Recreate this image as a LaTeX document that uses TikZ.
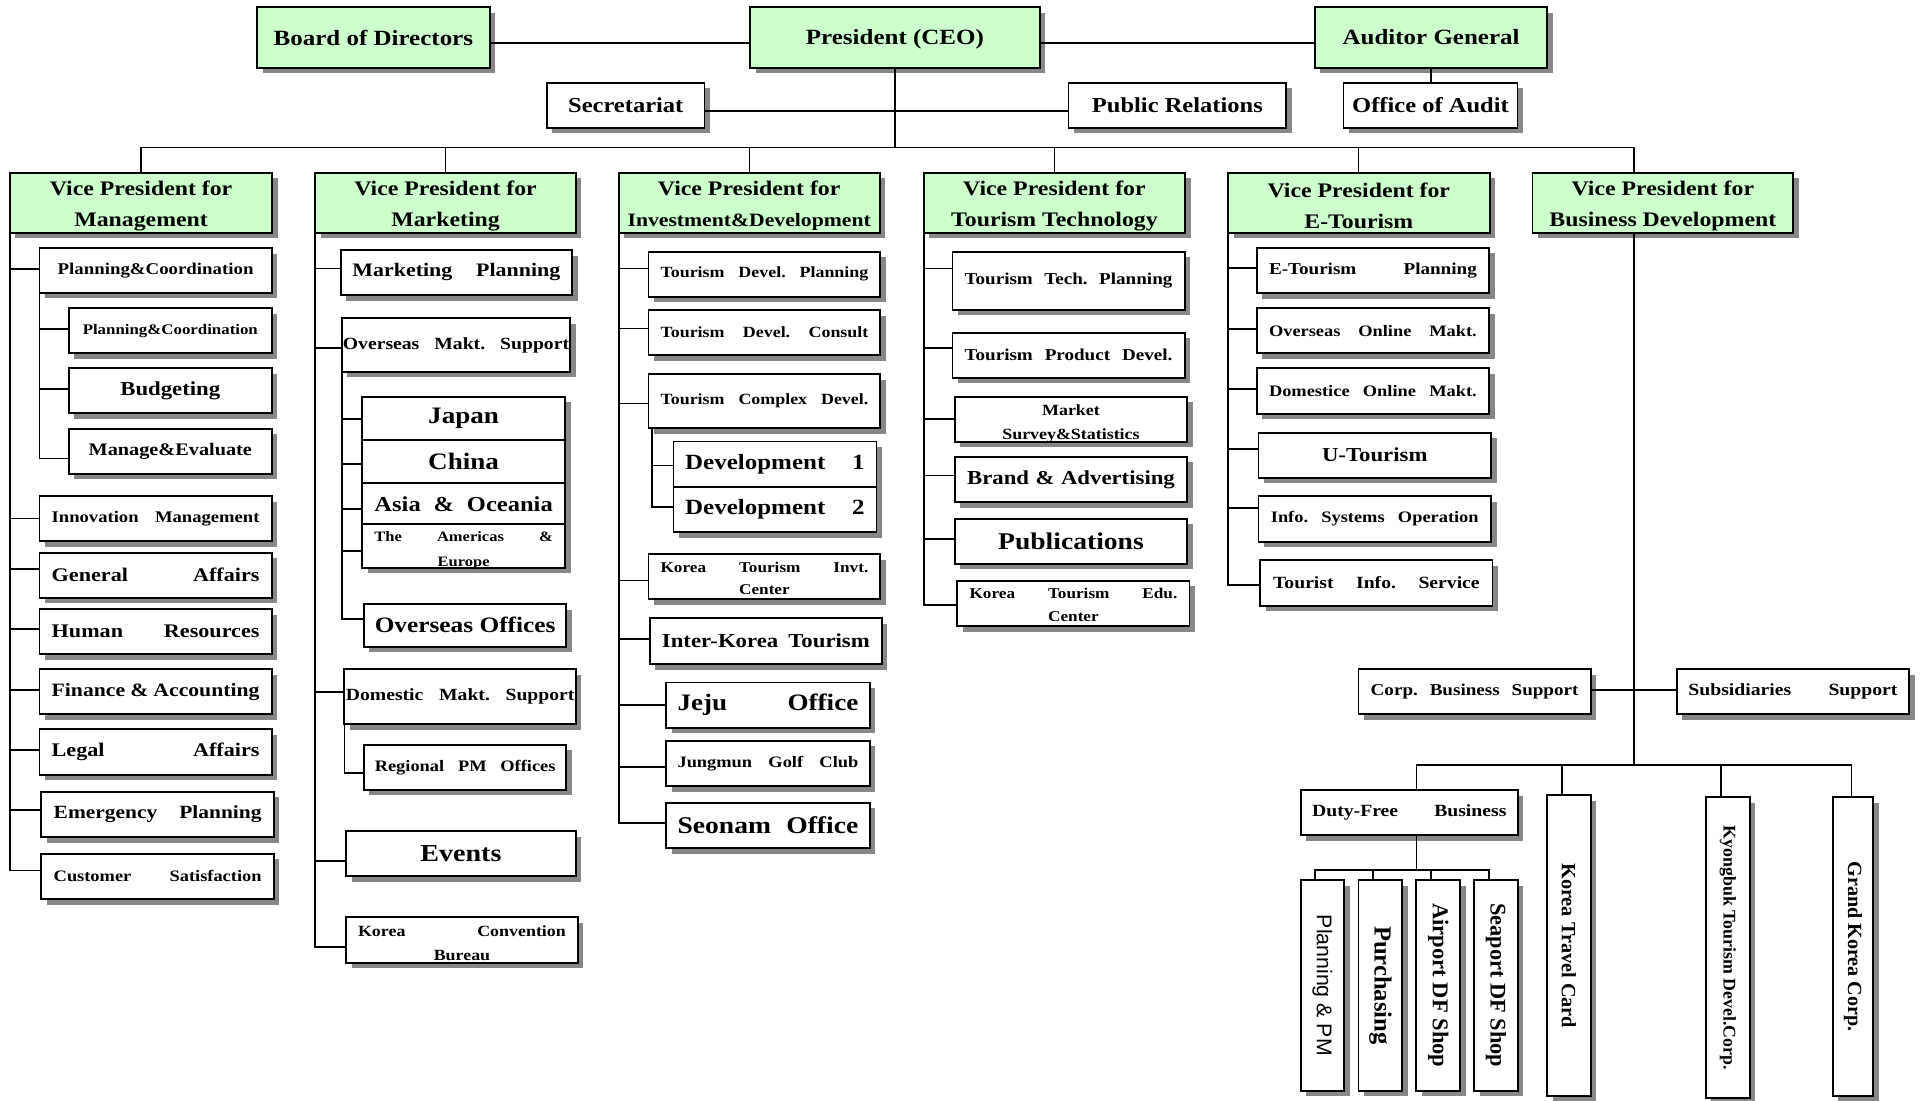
\documentclass[tikz,border=0pt]{standalone}
\usepackage{fontspec}
\setmainfont{Liberation Serif}[FakeStretch=1.15]
\newfontfamily\rfont{Liberation Serif}
\newfontfamily\rsans{Liberation Sans}
\usepackage{graphicx}
\usetikzlibrary{shadows,calc}
\definecolor{vpgreen}{HTML}{CCFFCC}
\definecolor{shade}{HTML}{878787}
\newdimen\uu \uu=0.6pt
% font size in pt
\newcommand\fz[1]{\fontsize{#1pt}{#1pt}\selectfont\baselineskip=1.2\dimexpr#1pt\relax}
% text spread over a given width (in drawing units)
\newcommand\spr[2]{\hbox to #1\uu{#2}}
% two-line label: raise, baselineskip, width, line 1, line 2
\newcommand\twol[5]{\raisebox{#1\uu}[0pt][0pt]{\parbox[b]{#3\uu}{\centering\baselineskip=#2\uu\relax\leavevmode #4\\#5}}}
% box: [style] name x1 y1 x2 y2 size text
\newcommand\obx[8][]{\node[bx,#1,font=\bfseries\fz{#7},minimum width={(#5-#3)*0.6pt},minimum height={(#6-#4)*0.6pt}] (#2) at ({(#3+#5)/2},{(#4+#6)/2}) {#8};}
% elbow connector from a trunk point to a box's west side
\newcommand\jn[3]{\draw[ln] (#1) |- ($(#2.west)+(0,#3)$);}
\newcommand\vtx[2]{\rotatebox{-90}{\rfont\bfseries\fz{#1}#2}}
% two-line vice-president title
\newcommand\vpt[1]{\rule{0pt}{10pt}Vice President for\\[3pt]#1}
\tikzset{
  bx/.style={draw, line width=0.9pt, fill=white, inner sep=0pt, outer sep=0pt,
    drop shadow={shadow xshift=2.7pt, shadow yshift=-2.7pt, fill=shade, opacity=1}},
  gbx/.style={bx, fill=vpgreen},
  ln/.style={line width=0.8pt},
  tln/.style={line width=0.6pt}
}
\begin{document}
\begin{tikzpicture}[x=0.6pt,y=-0.6pt]
\useasboundingbox (0,0) rectangle (1568,895);
\fill[white] (0,0) rectangle (1568,895);
\clip (0,0) rectangle (1568,895);

% ---- top management ----
\obx[gbx]{bod}{209}{6}{398.3}{55}{10.6}{Board of Directors}
\obx[gbx]{ceo}{610}{6}{845.6}{55}{10.6}{\rule{0pt}{9pt}President (CEO)}
\obx[gbx]{aud}{1069.3}{6}{1258.4}{55}{10.6}{Auditor General}
\obx{sec}{444.8}{67.2}{573}{103.8}{10.4}{Secretariat}
\obx{pr}{869}{67.2}{1046}{103.8}{10.4}{Public Relations}
\obx{ooa}{1092.6}{67.2}{1234.1}{103.8}{10.4}{Office of Audit}

% ---- vice presidents ----
\obx[gbx,align=center]{vpm}{8}{140.4}{221.5}{189.2}{10.1}{\vpt{Management}}
\obx[gbx,align=center]{vpk}{256.3}{140.4}{468.4}{189.2}{10.1}{\vpt{Marketing}}
\obx[gbx,align=center]{vpi}{503.2}{140.4}{715.4}{189.2}{10.1}{\vpt{{\fz{9.2}Investment\&Development}}}
\obx[gbx,align=center]{vpt}{751.4}{140.4}{963.7}{189.2}{10.1}{\vpt{Tourism Technology}}
\obx[gbx,align=center]{vpe}{998.7}{140.4}{1211.5}{189.2}{10.1}{\vpt{E-Tourism}}
\obx[gbx,align=center]{vpb}{1246.3}{140.4}{1458.4}{189.2}{10.1}{\vpt{Business Development}}

% ---- management ----
\obx{mpc}{32.1}{202}{221}{238}{8}{Planning\&Coordination}
\obx{mpc2}{56}{250.8}{221}{287.4}{7.15}{Planning\&Coordination}
\obx{mbud}{56}{299.6}{221}{336.2}{9.66}{Budgeting}
\obx{mme}{56}{348.6}{221}{385.3}{8.6}{Manage\&Evaluate}
\obx{minn}{32.1}{403.4}{221}{440}{7.9}{\spr{169}{Innovation\hfill Management}}
\obx{mga}{32.1}{449.5}{221}{486.1}{9.4}{\spr{169}{General\hfill Affairs}}
\obx{mhr}{32.1}{495.3}{221}{531.9}{9.4}{\spr{169}{Human\hfill Resources}}
\obx{mfa}{32.1}{544.3}{221}{580.7}{9.2}{\spr{169}{Finance\hfill\&\hfill Accounting}}
\obx{mla}{32.1}{593.2}{221}{630}{9.4}{\spr{169}{Legal\hfill Affairs}}
\obx{mep}{33.6}{643.8}{222.8}{680.7}{9.1}{\raisebox{4\uu}{\spr{169}{Emergency\hfill Planning}}}
\obx{mcs}{33.6}{694.3}{222.8}{731.1}{7.8}{\spr{169}{Customer\hfill Satisfaction}}

% ---- marketing ----
\obx{kmp}{277}{203.3}{465.3}{239.9}{9.3}{\spr{169}{Marketing\hfill Planning}}
\obx{koms}{278}{258.6}{463.7}{302.5}{8.35}{\spr{184}{Overseas\hfill Makt.\hfill Support}}
\obx{kjp}{294.4}{322.6}{459.7}{357.8}{11.5}{Japan}
\obx{kcn}{294.4}{357.8}{459.7}{393}{11.5}{China}
\obx{kao}{294.4}{393}{459.7}{426.4}{10.4}{\spr{145}{Asia\hfill\&\hfill Oceania}}
\obx{kam}{294.4}{426.4}{459.7}{461.7}{7}{\twol{-17}{21}{145}{\spr{145}{The\hfill Americas\hfill\&}}{Europe}}
\obx{koo}{296}{491.2}{460.6}{525.9}{10.75}{Overseas Offices}
\obx{kdm}{280.1}{544.3}{468.4}{588.8}{8.35}{\spr{186}{Domestic\hfill Makt.\hfill Support}}
\obx{krp}{296}{605.6}{460.6}{642.2}{7.8}{\spr{147}{Regional\hfill PM\hfill Offices}}
\obx{kev}{281.4}{676.1}{468.4}{712.7}{11.9}{Events}
\obx{kcb}{281.4}{746}{470}{782.9}{7.6}{\twol{-16.8}{20}{169}{\spr{169}{Korea\hfill Convention}}{Bureau}}

% ---- investment & development ----
\obx{itp}{527.4}{204.7}{716}{241.3}{7.6}{\spr{169}{Tourism\hfill Devel.\hfill Planning}}
\obx{itc}{527.4}{252.1}{716}{288.7}{7.6}{\spr{169}{Tourism\hfill Devel.\hfill Consult}}
\obx{icd}{527.4}{304.2}{716}{348.1}{7.6}{\spr{169}{Tourism\hfill Complex\hfill Devel.}}
\obx{id1}{547.7}{359}{712.8}{395.8}{10.6}{\spr{146}{Development\hfill 1}}
\obx{id2}{547.7}{395.8}{712.8}{432.7}{10.6}{\spr{146}{Development\hfill 2}}
\obx{iki}{527.4}{450.8}{716}{487.4}{7.3}{\twol{-14.5}{18.4}{169}{\spr{169}{Korea\hfill Tourism\hfill Invt.}}{Center}}
\obx{iik}{528.5}{502.9}{717.2}{540}{9.66}{\spr{169}{Inter-Korea\hfill Tourism}}
\obx{ije}{541.9}{555}{707.2}{591.8}{11.5}{\spr{147}{Jeju\hfill Office}}
\obx{ijg}{541.9}{602.4}{707.2}{639.2}{7.8}{\spr{147}{Jungmun\hfill Golf\hfill Club}}
\obx{ise}{541.9}{652.8}{707.2}{689.9}{11.7}{\spr{147}{Seonam\hfill Office}}

% ---- tourism technology ----
\obx{ttp}{774.6}{204.7}{963.4}{252}{8.1}{\spr{169}{Tourism\hfill Tech.\hfill Planning}}
\obx{tpd}{774.6}{270.6}{963.4}{307.2}{8.1}{\spr{169}{Tourism\hfill Product\hfill Devel.}}
\obx{tms}{776.6}{322.6}{965.4}{359.2}{7.6}{\twol{-16.4}{19.6}{169}{Market}{Survey\&Statistics}}
\obx{tba}{776.6}{371.4}{965.4}{408.3}{9.66}{\spr{169}{Brand\hfill\&\hfill Advertising}}
\obx{tpu}{776.6}{421.8}{965.4}{458.4}{11.7}{Publications}
\obx{tke}{778.6}{472.2}{967.4}{509.4}{7.3}{\twol{-15}{19}{169}{\spr{169}{Korea\hfill Tourism\hfill Edu.}}{Center}}

% ---- e-tourism ----
\obx{eep}{1022}{201.4}{1211.1}{238.6}{8.1}{\spr{169}{E-Tourism\hfill Planning}}
\obx{eoo}{1022}{250.5}{1211.1}{287.4}{7.8}{\spr{169}{Overseas\hfill Online\hfill Makt.}}
\obx{edo}{1022}{299.6}{1211.1}{336.4}{7.8}{\spr{169}{Domestice\hfill Online\hfill Makt.}}
\obx{eut}{1023.5}{351.9}{1212.6}{388.5}{9.66}{U-Tourism}
\obx{eis}{1023.5}{403.4}{1212.6}{440.5}{7.8}{\spr{169}{Info.\hfill Systems\hfill Operation}}
\obx{eti}{1025}{455.4}{1213.8}{492.6}{8.35}{\spr{168}{Tourist\hfill Info.\hfill Service}}

% ---- business development ----
\obx{bcs}{1104.8}{544.3}{1293.7}{580.7}{8.1}{\spr{169}{Corp.\hfill Business\hfill Support}}
\obx{bss}{1363.6}{544.3}{1552.7}{580.7}{8.35}{\spr{170}{Subsidiaries\hfill Support}}
\obx{bdf}{1057.8}{642.5}{1234.5}{679.1}{8.35}{\spr{158}{Duty-Free\hfill Business}}
\obx{bpm}{1057.8}{715.7}{1093.1}{887}{10}{\rotatebox{-90}{\rsans\mdseries\fz{10.4}Planning \& PM}}
\obx{bpu}{1104.8}{715.7}{1140.5}{887}{10}{\vtx{12}{Purchasing}}
\obx{bad}{1151.9}{715.7}{1187.5}{887}{10}{\vtx{11}{Airport DF Shop}}
\obx{bsd}{1198.9}{715.7}{1234.5}{887}{10}{\vtx{10.9}{Seaport DF Shop}}
\obx{bkt}{1258.1}{646.8}{1293.7}{891.4}{10}{\vtx{9.9}{Korea Travel Card}}
\obx{bky}{1387.4}{648.4}{1423}{893.2}{10}{\vtx{8.7}{Kyongbuk Tourism Devel.Corp.}}
\obx{bgk}{1490.6}{648.4}{1523.3}{891.4}{10}{\vtx{9.8}{Grand Korea Corp.}}

% ---- top connectors ----
\draw[tln] ($(bod.east)+(0,4.5)$) -- ($(ceo.west)+(0,4.5)$);
\draw[tln] ($(ceo.east)+(0,4.5)$) -- ($(aud.west)+(0,4.5)$);
\draw[tln] ($(sec.east)+(0,4.8)$) -- ($(pr.west)+(0,4.8)$);
\draw[tln] (aud.south) -- (aud.south |- ooa.north);
\coordinate (ceoj) at (727.8,120.1);
\coordinate (bdx) at (1328.9,120.1);
\coordinate (bdj) at (1328.9,622.2);
\coordinate (dfj) at (1151.9,707.5);
\draw[tln] (ceo.south) -- (ceoj);
\foreach \v in {vpm,vpk,vpi,vpt,vpe} \draw[tln] (\v.north) |- (ceoj);
\draw[tln] (ceoj) -- (bdx) -- (bdx |- vpb.north);

% ---- management ----
\jn{vpm.south west}{mpc}{-1.2}
\jn{mpc.south west}{mpc2}{-1.5}
\jn{mpc.south west}{mbud}{-1.5}
\jn{mpc.south west}{mme}{6}
\jn{vpm.south west}{minn}{0}
\jn{vpm.south west}{mga}{-4.8}
\jn{vpm.south west}{mhr}{-1.8}
\jn{vpm.south west}{mfa}{-1.3}
\jn{vpm.south west}{mla}{-1.9}
\jn{vpm.south west}{mep}{-3.3}
\jn{vpm.south west}{mcs}{-4.9}

% ---- marketing ----
\jn{vpk.south west}{kmp}{-3.1}
\jn{vpk.south west}{koms}{2.3}
\jn{koms.south west}{kjp}{0.6}
\jn{koms.south west}{kcn}{2.2}
\jn{koms.south west}{kao}{4}
\jn{koms.south west}{kam}{3.8}
\jn{koms.south west}{koo}{-5.4}
\jn{vpk.south west}{kdm}{-4}
\jn{kdm.south west}{krp}{4.5}
\jn{vpk.south west}{kev}{5.8}
\jn{vpk.south west}{kcb}{5.9}

% ---- investment & development ----
\jn{vpi.south west}{itp}{-4.5}
\jn{vpi.south west}{itc}{-3.1}
\jn{vpi.south west}{icd}{2.1}
\jn{$(icd.south west)+(2.6,0)$}{id1}{1.3}
\jn{$(icd.south west)+(2.6,0)$}{id2}{-2}
\jn{vpi.south west}{iki}{3.1}
\jn{vpi.south west}{iik}{-2}
\jn{vpi.south west}{ije}{0}
\jn{vpi.south west}{ijg}{3}
\jn{vpi.south west}{ise}{-2}

% ---- tourism technology ----
\jn{vpt.south west}{ttp}{-9.9}
\jn{vpt.south west}{tpd}{-6.1}
\jn{vpt.south west}{tms}{0}
\jn{vpt.south west}{tba}{-3}
\jn{vpt.south west}{tpu}{-1.5}
\jn{vpt.south west}{tke}{1.2}

% ---- e-tourism ----
\jn{vpe.south west}{eep}{-1.8}
\jn{vpe.south west}{eoo}{-1.4}
\jn{vpe.south west}{edo}{-1.6}
\jn{vpe.south west}{eut}{-4.8}
\jn{vpe.south west}{eis}{-9}
\jn{vpe.south west}{eti}{1.8}

% ---- business development ----
\draw[ln] (bdx |- vpb.south) -- (bdj);
\draw[ln] ($(bcs.east)+(0,-1.3)$) -- ($(bss.west)+(0,-1.3)$);
\draw[ln] (bdj) -| ($(bdf.north)+(5.75,0)$);
\draw[ln] (bdj) -| ($(bkt.north)+(-5.7,0)$);
\draw[ln] (bdj) -| ($(bky.north)+(-5.6,0)$);
\draw[ln] (bdj) -| ($(bgk.north)+(-1.2,0)$);
\draw[ln] ($(bdf.south)+(5.75,0)$) -- (dfj);
\draw[ln] (dfj) -| ($(bpm.north)+(-6,0)$);
\draw[ln] (dfj) -| ($(bpu.north)+(-6,0)$);
\draw[ln] (dfj) -| ($(bad.north)+(-6,0)$);
\draw[ln] (dfj) -| ($(bsd.north)+(-6,0)$);
\end{tikzpicture}
\end{document}
